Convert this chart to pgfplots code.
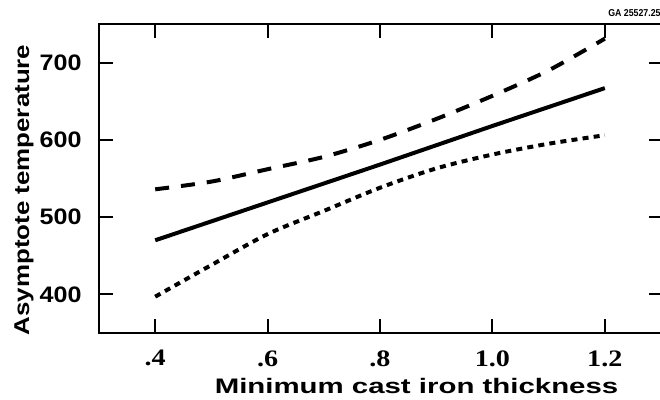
\documentclass[border=0pt]{standalone}
\usepackage{fontspec}
\usepackage{pgfplots}
\pgfplotsset{compat=1.18}
\newfontfamily\xlabfont[FakeStretch=1.4]{Liberation Sans}
\newfontfamily\ylabfont[FakeStretch=1.21]{Liberation Sans}
\newfontfamily\ytfont[FakeStretch=1.12]{Liberation Sans}
\newfontfamily\xtfont[FakeStretch=1.19]{Liberation Serif}
\newfontfamily\gafont[FakeStretch=0.88]{Liberation Sans}

\pgfplotstableread{
x y
0.4 470
0.6 519
0.8 568
1.0 618
1.2 667
}\solidtab
\pgfplotstableread{
x y
0.4 536
0.5 546
0.6 562
0.7 578
0.8 600
0.9 627
1.0 657
1.1 690
1.2 731
}\uppertab
\pgfplotstableread{
x y
0.4 397
0.5 438
0.6 478
0.7 508
0.8 538
0.9 563
1.0 581
1.1 595
1.2 606
}\lowertab

\begin{document}
\begin{tikzpicture}
\path[use as bounding box] (0,0) rectangle (330pt,200pt);
\begin{axis}[
  at={(49.5pt,33.5pt)}, anchor=south west,
  scale only axis, width=282pt, height=154.5pt,
  xmin=0.3, xmax=1.30356, ymin=350, ymax=750,
  xtick={0.4,0.6,0.8,1.0,1.2},
  xticklabels={.4,.6,.8,1.0,1.2},
  ytick={400,500,600,700},
  yticklabels={400,500,600,700},
  axis line style={line width=1pt},
  major tick style={line width=1pt, black},
  major tick length=6.8pt,
  tick align=inside,
  xticklabel style={font=\xtfont\bfseries\fontsize{11.8}{13}\selectfont, inner sep=0pt, anchor=north, yshift=-8.5pt},
  yticklabel style={font=\ytfont\bfseries\fontsize{11.2}{13}\selectfont, inner sep=0pt, anchor=east, xshift=-8.5pt},
  xlabel={Minimum cast iron thickness},
  xlabel style={font=\xlabfont\bfseries\fontsize{10.5}{12}\selectfont, at={(axis description cs:0.563,-0.1974)}, anchor=base, inner sep=0pt},
  ylabel={Asymptote temperature},
  ylabel style={font=\ylabfont\bfseries\fontsize{10.7}{12}\selectfont, at={(axis description cs:-0.1241,0.463)}, anchor=base, rotate=0, inner sep=0pt},
  clip=false,
]
\addplot[black, line width=2pt, line cap=butt] table[x=x,y=y] {\solidtab};
\addplot[black, line width=2pt, smooth, line cap=butt, dash pattern=on 7pt off 6pt] table[x=x,y=y] {\uppertab};
\addplot[black, line width=2pt, smooth, line cap=butt, dash pattern=on 3pt off 2.6pt] table[x=x,y=y] {\lowertab};
\node[anchor=base east, inner sep=0pt, font=\gafont\bfseries\fontsize{5}{6}\selectfont] at (axis description cs:0.9965,1.0227) {GA 25527.25};
\end{axis}
\end{tikzpicture}
\end{document}
